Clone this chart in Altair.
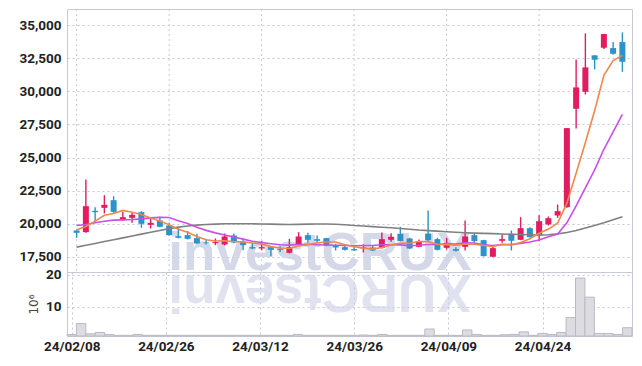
import altair as alt
import pandas as pd

# ---- data ----
tick_idx = [0, 10, 20, 30, 40, 50]
tick_labels = ["24/02/08", "24/02/26", "24/03/12", "24/03/26", "24/04/09", "24/04/24"]

opens = [19497, 19371, 20980, 21206, 21784, 20301, 20452, 20879, 19924, 20251,
         19874, 19070, 19145, 18919, 18592, 18542, 18441, 19120, 18642, 18240,
         18140, 18240, 18115, 17813, 18441, 19145, 18843, 18919, 18391, 18240,
         18090, 18140, 18215, 18190, 18793, 19246, 18894, 18266, 19246, 18843,
         18190, 18090, 18266, 19145, 18768, 17512, 18718, 19246, 18793, 19673,
         19196, 19949, 20628, 21256, 28682, 29965, 32709, 33288, 33263, 33716]
highs = [19547, 23342, 21256, 22161, 22085, 20904, 20829, 20954, 20452, 20527,
         20075, 19698, 19447, 19246, 18869, 18894, 19271, 19271, 18869, 18567,
         18693, 18291, 18316, 18869, 19371, 19321, 19120, 18944, 18492, 18441,
         18266, 18441, 18391, 19346, 19296, 19773, 18944, 18818, 21005, 18944,
         18944, 18240, 20251, 19321, 18793, 18291, 19196, 19497, 20502, 19748,
         20653, 20552, 21457, 27222, 32407, 34370, 32734, 34345, 33716, 34446]
lows = [18944, 19321, 20150, 20779, 20829, 20251, 20075, 19698, 19648, 19748,
        19120, 18894, 18818, 18492, 18441, 18391, 18366, 18542, 18014, 18090,
        18014, 17562, 17864, 17763, 18391, 18567, 18617, 18316, 17989, 17989,
        17964, 17838, 17939, 18140, 18642, 18668, 18090, 18240, 18693, 17989,
        18064, 17914, 17989, 18567, 17537, 17487, 18567, 17989, 18768, 18969,
        18693, 19874, 20452, 21206, 27197, 29764, 31652, 33187, 32759, 31475]
closes = [19321, 21331, 20879, 21432, 20904, 20502, 20678, 20000, 20075, 19773,
          19145, 18944, 18869, 18517, 18542, 18617, 19045, 18592, 18391, 18140,
          18240, 18039, 18039, 18240, 19045, 18793, 18718, 18366, 18215, 18039,
          17989, 18215, 17989, 18843, 19020, 18693, 18140, 18642, 18768, 18039,
          18567, 17964, 19045, 18693, 17562, 18165, 18843, 18718, 19673, 18995,
          20201, 20427, 20954, 27222, 30293, 31803, 32382, 34320, 32835, 32231]
volumes = [1.25, 4.7, 1.5, 1.9, 1.25, 1.0, 1.0, 1.3, 1.0, 1.0,
           1.0, 1.0, 1.0, 1.0, 1.0, 1.0, 1.0, 1.0, 1.0, 1.0,
           1.0, 1.0, 1.0, 1.0, 1.3, 1.0, 1.0, 1.0, 1.0, 1.0,
           1.0, 1.1, 1.0, 1.3, 1.0, 1.0, 1.0, 1.0, 3.0, 1.0,
           1.0, 1.0, 2.7, 1.3, 1.0, 1.0, 1.2, 1.3, 2.1, 1.0,
           1.6, 1.3, 1.9, 6.6, 19.0, 13.0, 1.6, 1.6, 1.3, 3.4]
ma_orange = [19550, 19800, 20200, 20650, 20773, 21010, 20879, 20703, 20432, 20206,
             19934, 19587, 19361, 19050, 18803, 18698, 18718, 18663, 18637, 18557,
             18482, 18280, 18170, 18140, 18321, 18431, 18567, 18632, 18627, 18426,
             18265, 18165, 18089, 18215, 18411, 18552, 18537, 18668, 18653, 18456,
             18431, 18396, 18477, 18462, 18366, 18286, 18462, 18396, 18592, 18879,
             19286, 19603, 20050, 21560, 23819, 26140, 28531, 31204, 32327, 32714]
ma_magenta = [19874, 19950, 20075, 20200, 20277, 20300, 20326, 20376, 20450, 20490,
              20472, 20233, 20032, 19741, 19505, 19316, 19153, 19012, 18844, 18680,
              18590, 18499, 18416, 18389, 18439, 18456, 18424, 18401, 18384, 18373,
              18348, 18366, 18361, 18421, 18419, 18409, 18351, 18379, 18434, 18434,
              18492, 18467, 18572, 18557, 18411, 18359, 18429, 18436, 18527, 18623,
              18786, 19032, 19223, 20076, 21349, 22713, 24067, 25627, 26943, 28267]
ma_gray = [18240, 18380, 18520, 18660, 18800, 18940, 19080, 19220, 19360, 19500,
           19640, 19748, 19830, 19900, 19950, 19975, 20000, 20010, 20010, 20000,
           19990, 19975, 19960, 19950, 19960, 19975, 19990, 19990, 19970, 19930,
           19870, 19830, 19790, 19740, 19700, 19650, 19590, 19530, 19490, 19450,
           19400, 19360, 19330, 19300, 19280, 19260, 19230, 19210, 19190, 19170,
           19150, 19180, 19240, 19350, 19490, 19690, 19880, 20080, 20300, 20530]
price_ticks = [17500, 20000, 22500, 25000, 27500, 30000, 32500, 35000]
vol_ticks = [10, 20]
watermark = "investCRUX"
watermark_reflect = "XURCtsevni"

n = len(closes)
df = pd.DataFrame({
    "i": list(range(n)), "open": opens, "high": highs, "low": lows,
    "close": closes, "vol": volumes,
    "ma5": ma_orange, "ma10": ma_magenta, "ma60": ma_gray,
})
df["dir"] = ["up" if c >= o else "down" for o, c in zip(opens, closes)]
ticks_df = pd.DataFrame({"i": tick_idx})

W, H1, H2 = 565, 263, 64
FONT = "Roboto"
FS = 13.5
GRID = "#c4c7d8"

label_expr = " : ".join(f"datum.value == {v} ? '{t}'" for v, t in zip(tick_idx, tick_labels)) + " : ''"

xscale = alt.Scale(domain=[-0.5, n - 0.5], nice=False, zero=False)
x_bot_axis = alt.Axis(values=tick_idx, labelExpr=label_expr, ticks=False, domain=False, grid=True,
                      gridDash=[2, 3], gridColor=GRID, title=None, labelFont=FONT,
                      labelFontSize=FS, labelFontWeight="bold", labelColor="#222",
                      labelPadding=3, labelFlush=False)

yscale = alt.Scale(domain=[16364, 36212], nice=False, zero=False)
y_axis = alt.Axis(values=price_ticks, format=",.0f", ticks=False, domain=False, grid=True,
                  gridDash=[2, 3], gridColor=GRID, title=None, labelFont=FONT,
                  labelFontSize=FS, labelFontWeight="bold", labelColor="#222", labelPadding=6)

base = alt.Chart(df)
color = alt.Color("dir:N", scale=alt.Scale(domain=["up", "down"], range=["#e31b5f", "#2c93c8"]), legend=None)

vgrid = alt.Chart(ticks_df).mark_rule(color=GRID, strokeDash=[2, 3], strokeWidth=1).encode(
    x=alt.X("i:Q", scale=xscale, axis=None))

wm = alt.Chart(pd.DataFrame({"t": [watermark]})).mark_text(
    font="Liberation Sans", fontWeight="bold", fontSize=53,
    color="#cdd2e5", opacity=0.85, align="center", baseline="alphabetic"
).encode(text="t:N", x=alt.value(253), y=alt.value(261))

wick = base.mark_rule(strokeWidth=1.4).encode(
    x=alt.X("i:Q", scale=xscale, axis=None),
    y=alt.Y("low:Q", scale=yscale, axis=y_axis),
    y2="high:Q", color=color)
body = base.mark_bar(size=6).encode(
    x=alt.X("i:Q", scale=xscale, axis=None),
    y=alt.Y("open:Q", scale=yscale, axis=y_axis),
    y2="close:Q", color=color)

def ma_line(field, col):
    return base.mark_line(strokeWidth=1.6, color=col).encode(
        x=alt.X("i:Q", scale=xscale, axis=None),
        y=alt.Y(f"{field}:Q", scale=yscale, axis=y_axis))

price = alt.layer(
    vgrid, wm, wick, body,
    ma_line("ma60", "#808080"), ma_line("ma10", "#c850e8"), ma_line("ma5", "#f0884c"),
).properties(width=W, height=H1)

wm2 = alt.Chart(pd.DataFrame({"t": [watermark_reflect]})).mark_text(
    font="Liberation Sans", fontWeight="bold", fontSize=53,
    color="#cdd2e5", opacity=0.6, align="center", baseline="alphabetic", angle=180
).encode(text="t:N", x=alt.value(253), y=alt.value(3))

vbars = base.transform_calculate(x0="datum.i - 0.5", x1="datum.i + 0.5").mark_rect(
    fill="#dcdce1", stroke="#b9bac6", strokeWidth=1
).encode(
    x=alt.X("x0:Q", scale=xscale, axis=x_bot_axis),
    x2="x1:Q",
    y=alt.Y("vol:Q", scale=alt.Scale(domain=[0.8, 20.9], nice=False, zero=False),
            axis=alt.Axis(values=vol_ticks, ticks=False, domain=False, grid=True,
                          gridDash=[2, 3], gridColor=GRID, title="10⁶",
                          titleFont="DejaVu Sans", titleFontSize=12, titleFontWeight="normal",
                          titleColor="#444", titlePadding=5, labelFont=FONT, labelFontSize=FS,
                          labelFontWeight="bold", labelColor="#222", labelPadding=6)),
    y2=alt.value(H2),
)

volume = alt.layer(wm2, vbars).properties(width=W, height=H2)

chart = alt.vconcat(price, volume, spacing=0, bounds="flush").properties(
    padding={"left": 10, "top": 0, "right": 1, "bottom": 2}
).configure_view(stroke="#c8cad8").configure_concat(spacing=0)

chart.save("out.html", embed_options={"renderer": "svg", "actions": False})
